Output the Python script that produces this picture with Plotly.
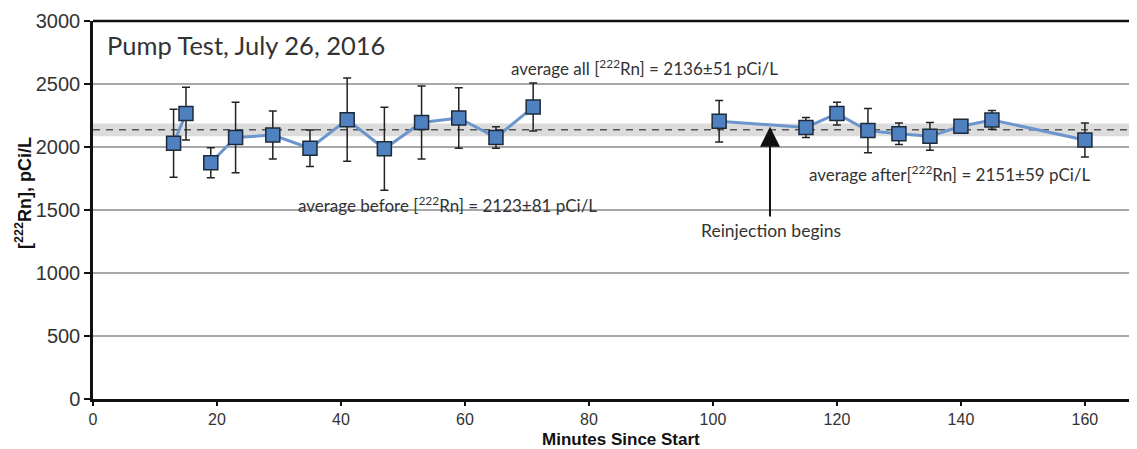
import plotly.graph_objects as go

# Data
minutes = [13, 15, 19, 23, 29, 35, 41, 47, 53, 59, 65, 71,
           101, 115, 120, 125, 130, 135, 140, 145, 160]
radon = [2030, 2265, 1875, 2075, 2095, 1990, 2217, 1986, 2194, 2230, 2075, 2317,
         2205, 2155, 2265, 2130, 2105, 2085, 2165, 2215, 2055]
radon_err = [270, 210, 120, 280, 190, 145, 330, 330, 290, 240, 85, 190,
             165, 80, 90, 175, 85, 110, 30, 75, 135]
segment = [1, 1, 2, 2, 2, 2, 2, 2, 2, 2, 2, 2,
           3, 3, 3, 3, 3, 3, 3, 3, 3]

avg_all = 2136
avg_all_err = 51
reinjection_minute = 109.2

x_ticks = [0, 20, 40, 60, 80, 100, 120, 140, 160]
y_ticks = [0, 500, 1000, 1500, 2000, 2500, 3000]

fig = go.Figure()

# average band and dashed line
fig.add_shape(type="rect", xref="paper", x0=0, x1=1, yref="y",
              y0=avg_all - avg_all_err, y1=avg_all + avg_all_err,
              fillcolor="#dcdcdc", line_width=0, layer="below")
fig.add_shape(type="line", xref="paper", x0=0, x1=1, yref="y",
              y0=avg_all, y1=avg_all,
              line=dict(color="#555555", width=1.5, dash="7px,6px"), layer="below")

# connecting lines per segment
for s in sorted(set(segment)):
    xs = [m for m, g in zip(minutes, segment) if g == s]
    ys = [r for r, g in zip(radon, segment) if g == s]
    fig.add_trace(go.Scatter(x=xs, y=ys, mode="lines",
                             line=dict(color="#6b95cc", width=3),
                             hoverinfo="skip", showlegend=False))

fig.add_trace(go.Scatter(
    x=minutes, y=radon, mode="markers",
    marker=dict(symbol="square", size=14, color="#4f80c0",
                line=dict(color="#1d2a3a", width=1.5)),
    error_y=dict(type="data", array=radon_err, visible=True,
                 color="#222222", thickness=1.5, width=4),
    showlegend=False))

txt_color = "#333333"
ann_family = "Lato, Noto Sans, sans-serif"
ann_font = dict(family=ann_family, size=17, color=txt_color)

fig.add_annotation(x=1.9, y=2810, xref="x", yref="y", xanchor="left",
                   text="Pump Test, July 26, 2016", showarrow=False,
                   font=dict(family=ann_family, size=25.5, color=txt_color))
fig.add_annotation(x=89.0, y=2630, xref="x", yref="y",
                   text="average all [<sup>222</sup>Rn] = 2136±51 pCi/L",
                   showarrow=False, font=ann_font)
fig.add_annotation(x=57.2, y=1540, xref="x", yref="y",
                   text="average before [<sup>222</sup>Rn] = 2123±81 pCi/L",
                   showarrow=False, font=ann_font)
fig.add_annotation(x=138.2, y=1790, xref="x", yref="y",
                   text="average after[<sup>222</sup>Rn] = 2151±59 pCi/L",
                   showarrow=False, font=ann_font)
fig.add_annotation(x=109.4, y=1340, xref="x", yref="y",
                   text="Reinjection begins", showarrow=False,
                   font=dict(family=ann_family, size=17.5, color=txt_color))
fig.add_annotation(x=reinjection_minute, y=2160, xref="x", yref="y",
                   ax=reinjection_minute, ay=1436, axref="x", ayref="y",
                   text="", showarrow=True, arrowhead=2, arrowsize=2.0,
                   arrowwidth=2, arrowcolor="#111111")

# axis titles as annotations (axis is cropped on the right in the reference)
fig.add_annotation(x=85.2, y=-0.108, xref="x", yref="paper", yanchor="middle",
                   text="<b>Minutes Since Start</b>", showarrow=False,
                   font=dict(family="Liberation Sans, Arial", size=17, color="#111111"))
fig.add_annotation(x=-0.066, y=0.545, xref="paper", yref="paper",
                   xanchor="center", yanchor="middle", textangle=-90,
                   text="<b>[<sup>222</sup>Rn], pCi/L</b>", showarrow=False,
                   font=dict(family="Liberation Sans, Arial", size=18, color="#111111"))

# page body has an 8px margin; size the figure so the plot lands in place
fig.update_layout(
    width=1129, height=441,
    margin=dict(l=85, r=0, t=13, b=50),
    paper_bgcolor="white", plot_bgcolor="white",
    showlegend=False,
)
fig.update_xaxes(
    range=[0, 168.4], tickvals=x_ticks, ticktext=[str(v) for v in x_ticks],
    showgrid=False, zeroline=False, automargin=False,
    showline=True, linecolor="#111111", linewidth=2.5, mirror=False,
    ticks="outside", ticklen=4, tickwidth=1.5, tickcolor="#111111",
    tickfont=dict(family="Liberation Sans, Arial", size=16, color=txt_color),
)
fig.update_yaxes(
    range=[0, 3000], tickvals=y_ticks, ticktext=[str(v) for v in y_ticks],
    showgrid=True, gridcolor="#a8a8a8", gridwidth=1.5, zeroline=False,
    automargin=False,
    showline=True, linecolor="#111111", linewidth=2.5,
    ticks="outside", ticklen=6, tickwidth=1.5, tickcolor="#111111",
    tickfont=dict(family="Liberation Sans, Arial", size=20, color=txt_color),
)
# top border
fig.add_shape(type="line", xref="paper", x0=0, x1=1, yref="paper", y0=1, y1=1,
              line=dict(color="#111111", width=2.5))

fig.write_html("out.html")
